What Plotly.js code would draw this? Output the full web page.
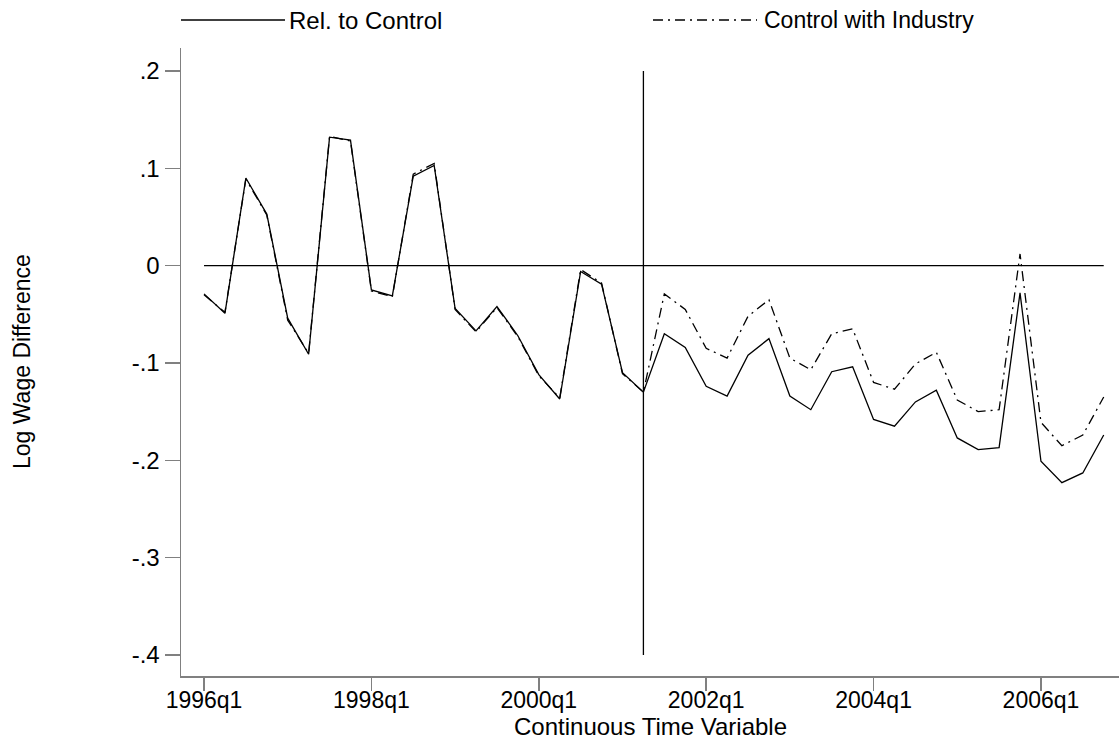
<!DOCTYPE html>
<html>
<head>
<meta charset="utf-8">
<script src="https://cdn.plot.ly/plotly-3.0.1.min.js"></script>
<style>html,body{margin:0;padding:0;background:#fff;}#chart{width:1119px;height:742px;}</style>
</head>
<body>
<div id="chart"></div>
<script>
const quarters = ["1996q1","1996q2","1996q3","1996q4","1997q1","1997q2","1997q3","1997q4",
  "1998q1","1998q2","1998q3","1998q4","1999q1","1999q2","1999q3","1999q4",
  "2000q1","2000q2","2000q3","2000q4","2001q1","2001q2","2001q3","2001q4",
  "2002q1","2002q2","2002q3","2002q4","2003q1","2003q2","2003q3","2003q4",
  "2004q1","2004q2","2004q3","2004q4","2005q1","2005q2","2005q3","2005q4",
  "2006q1","2006q2","2006q3","2006q4"];
const relToControl = [-0.029,-0.049,0.090,0.053,-0.054,-0.091,0.132,0.129,
  -0.025,-0.031,0.092,0.103,-0.044,-0.067,-0.042,-0.072,
  -0.112,-0.137,-0.006,-0.019,-0.110,-0.130,-0.070,-0.084,
  -0.124,-0.134,-0.092,-0.075,-0.134,-0.148,-0.109,-0.104,
  -0.158,-0.165,-0.140,-0.128,-0.177,-0.189,-0.187,-0.028,
  -0.201,-0.223,-0.213,-0.174];
const controlWithIndustry = [-0.030,-0.048,0.089,0.052,-0.056,-0.090,0.133,0.128,
  -0.026,-0.032,0.094,0.105,-0.045,-0.068,-0.043,-0.073,
  -0.113,-0.136,-0.004,-0.018,-0.111,-0.130,-0.029,-0.045,
  -0.085,-0.095,-0.052,-0.035,-0.095,-0.107,-0.070,-0.065,
  -0.120,-0.127,-0.101,-0.089,-0.138,-0.150,-0.148,0.012,
  -0.161,-0.185,-0.174,-0.135];
const xTickVals = ["1996q1","1998q1","2000q1","2002q1","2004q1","2006q1"];
const yTickVals = [-0.4,-0.3,-0.2,-0.1,0,0.1,0.2];
const yTickText = ["-.4","-.3","-.2","-.1","0",".1",".2"];
const eventQuarter = "2001q2";
const eventLineRange = [-0.4, 0.2];
const seriesNames = ["Rel. to Control","Control with Industry"];

const FONT = "Liberation Sans, Arial, sans-serif";
const DASH = "10px,5px,2px,5px";
const axisGray = "#808080";

const traces = [
  {x: quarters, y: relToControl, type: "scatter", mode: "lines", name: seriesNames[0],
   line: {color: "#000", width: 1.3}, showlegend: false},
  {x: quarters, y: controlWithIndustry, type: "scatter", mode: "lines", name: seriesNames[1],
   line: {color: "#000", width: 1.3, dash: DASH}, showlegend: false}
];

const L = 181, T = 48, PW = 938, PH = 628;
const px = v => (v - L) / PW;
const py = v => 1 - (v - T) / PH;

const evIdx = quarters.indexOf(eventQuarter);
const layout = {
  width: 1119, height: 742,
  margin: {l: L, r: 0, t: T, b: 66, pad: 0},
  paper_bgcolor: "#fff", plot_bgcolor: "#fff",
  font: {family: FONT, color: "#000", size: 22},
  showlegend: false,
  xaxis: {
    type: "category", categoryorder: "array", categoryarray: quarters,
    range: [-1.1, 43.73], tickvals: xTickVals, ticktext: xTickVals,
    showgrid: false, zeroline: false, showline: true, linecolor: axisGray, linewidth: 1.5,
    ticks: "outside", ticklen: 13, tickcolor: axisGray, tickwidth: 1.5, ticklabelstandoff: -10,
    tickfont: {family: FONT, size: 23, color: "#000"}, fixedrange: true
  },
  yaxis: {
    range: [-0.4216, 0.2236], tickvals: yTickVals, ticktext: yTickText,
    showgrid: false, zeroline: false, showline: true, linecolor: axisGray, linewidth: 1.5,
    ticks: "outside", ticklen: 15, tickcolor: axisGray, tickwidth: 1.5,
    tickfont: {family: FONT, size: 24, color: "#000"}, fixedrange: true
  },
  shapes: [
    {type: "line", xref: "x", yref: "y", x0: 0, x1: quarters.length - 1, y0: 0, y1: 0,
     line: {color: "#000", width: 1.3}},
    {type: "line", xref: "x", yref: "y", x0: evIdx, x1: evIdx, y0: eventLineRange[0], y1: eventLineRange[1],
     line: {color: "#000", width: 1.3}},
    {type: "line", xref: "paper", yref: "paper", x0: px(181), x1: px(285),
     y0: py(20), y1: py(20), line: {color: "#000", width: 1.3}},
    {type: "line", xref: "paper", yref: "paper", x0: px(653), x1: px(757),
     y0: py(20), y1: py(20), line: {color: "#000", width: 1.3, dash: DASH}}
  ],
  annotations: [
    {text: seriesNames[0], xref: "paper", yref: "paper", x: px(287), y: py(20),
     xanchor: "left", yanchor: "middle", showarrow: false, font: {family: FONT, size: 24}},
    {text: seriesNames[1], xref: "paper", yref: "paper", x: px(762), y: py(20),
     xanchor: "left", yanchor: "middle", showarrow: false, font: {family: FONT, size: 23}},
    {text: "Continuous Time Variable", xref: "paper", yref: "paper", x: 0.5, y: py(741),
     xanchor: "center", yanchor: "bottom", borderpad: 0, showarrow: false, font: {family: FONT, size: 24}},
    {text: "Log Wage Difference", xref: "paper", yref: "paper", x: px(22), y: py(362),
     xanchor: "center", yanchor: "middle", textangle: -90, showarrow: false, font: {family: FONT, size: 23}}
  ]
};

Plotly.newPlot("chart", traces, layout, {displayModeBar: false, staticPlot: true});
</script>
</body>
</html>
